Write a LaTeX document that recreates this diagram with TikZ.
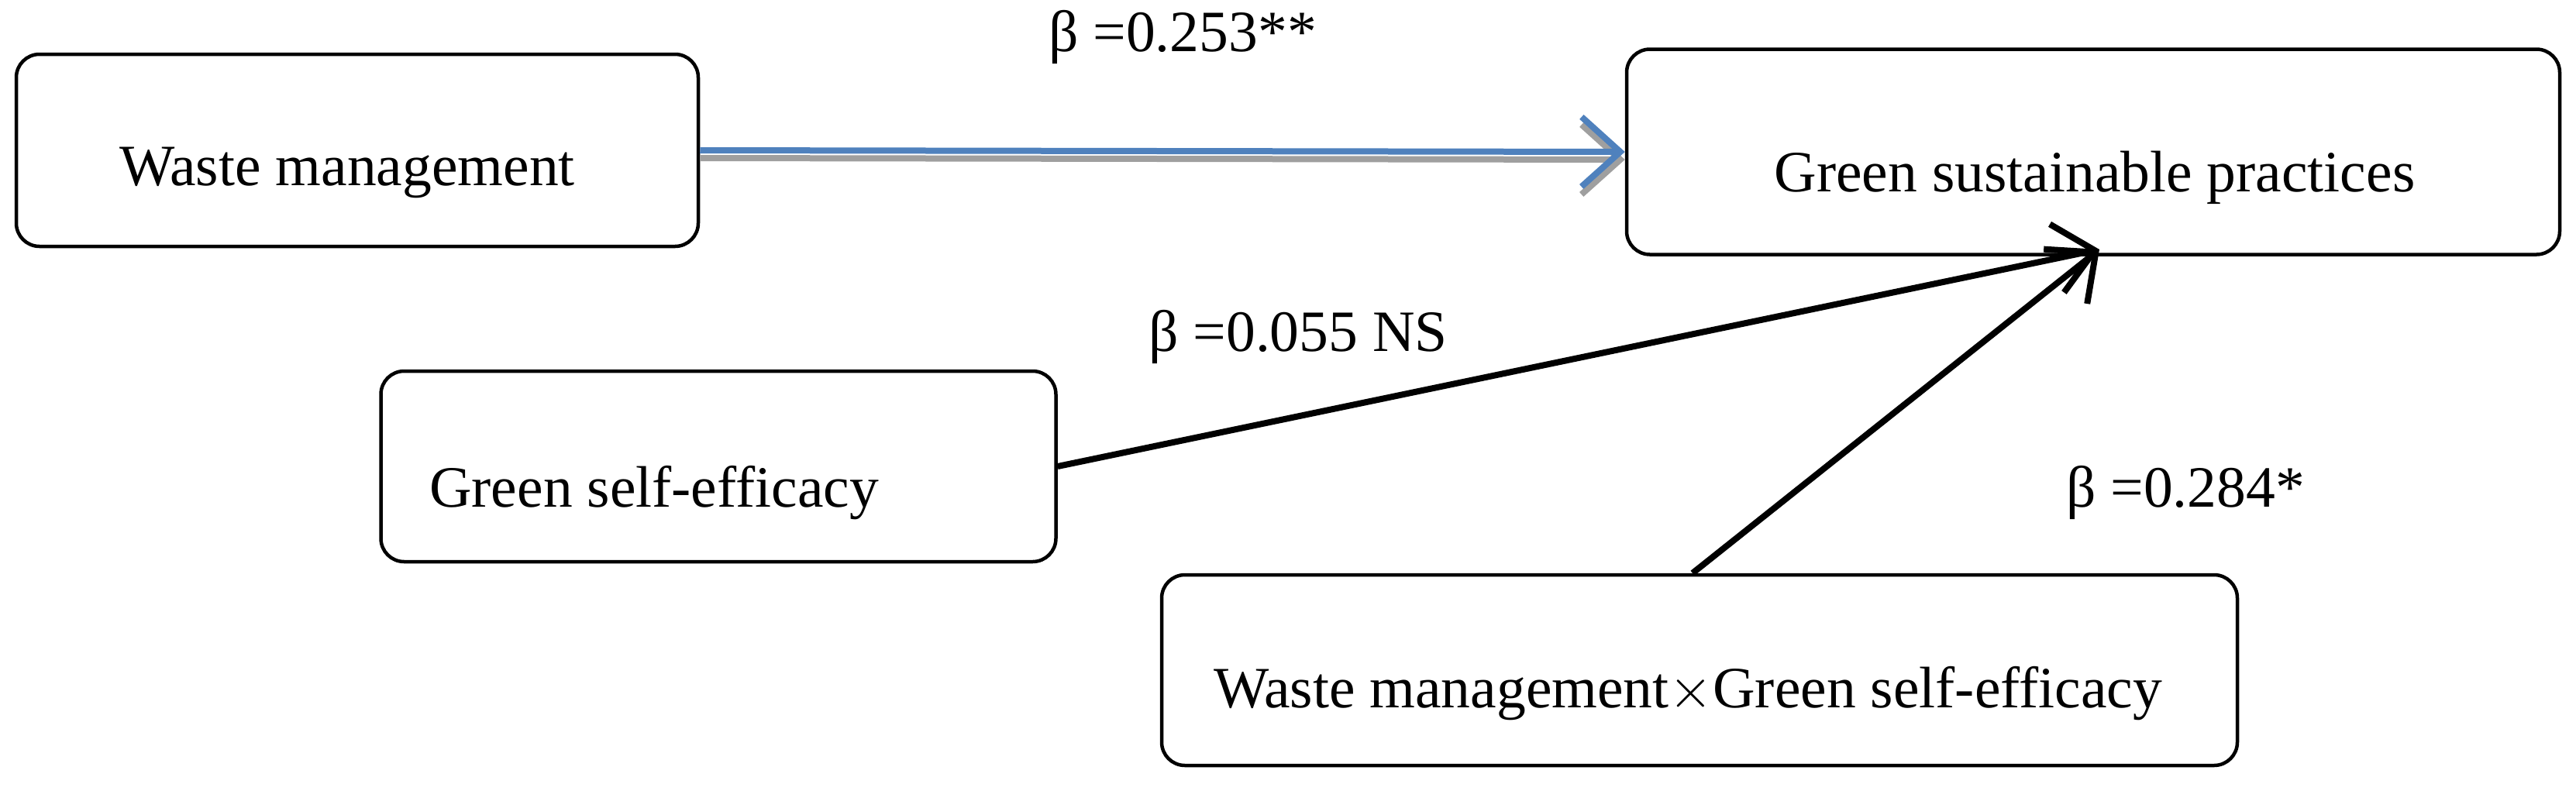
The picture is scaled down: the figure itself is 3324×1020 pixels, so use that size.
\documentclass[tikz,border=0pt]{standalone}
\usepackage{fontspec}
\setmainfont{Liberation Serif}
\usetikzlibrary{arrows.meta}
\begin{document}
\begin{tikzpicture}[x=0.1mm,y=-0.1mm,
  box/.style={draw,line width=0.45mm,rounded corners=3mm,inner sep=0pt},
  txt/.style={font=\fontsize{21.5}{26}\selectfont,inner sep=0pt},
  arr/.style={line width=0.8mm,-{Straight Barb[length=5mm,width=9mm,line width=0.8mm]}}]
\useasboundingbox (0,0) rectangle (3324,1020);
\node[box,minimum width=88mm,minimum height=24.8mm] (wm) at (461,194) {};
\node[box,minimum width=120.4mm,minimum height=26.5mm] (gsp) at (2701,196) {};
\node[box,minimum width=87.1mm,minimum height=24.6mm] (gse) at (927,602) {};
\node[box,minimum width=138.8mm,minimum height=24.6mm] (int) at (2193,865) {};
\node[txt] (t1) at (448,223) {Waste management};
\node[txt] (t2) at (2703,229) {Green sustainable practices};
\node[txt] (t3) at (844,636) {Green self-efficacy};
\node[txt] (t4) at (2178,895) {Waste management$\times$Green self-efficacy};
\node[txt] (l1) at (1526,48) {β =0.253**};
\node[txt] (l2) at (1675,435) {β =0.055 NS};
\node[txt] (l3) at (2820,636) {β =0.284*};
\coordinate (h) at (2709,322);
\draw[arr,gray!75] ([yshift=-1mm]wm.east) -- ([yshift=-1mm]gsp.west);
\draw[arr,color={rgb,255:red,79;green,129;blue,189}] (wm.east) -- (gsp.west);
\draw[arr] (gse.east) -- (h);
\draw[arr] ([xshift=-0.9mm]int.north) -- (h);
\end{tikzpicture}
\end{document}
